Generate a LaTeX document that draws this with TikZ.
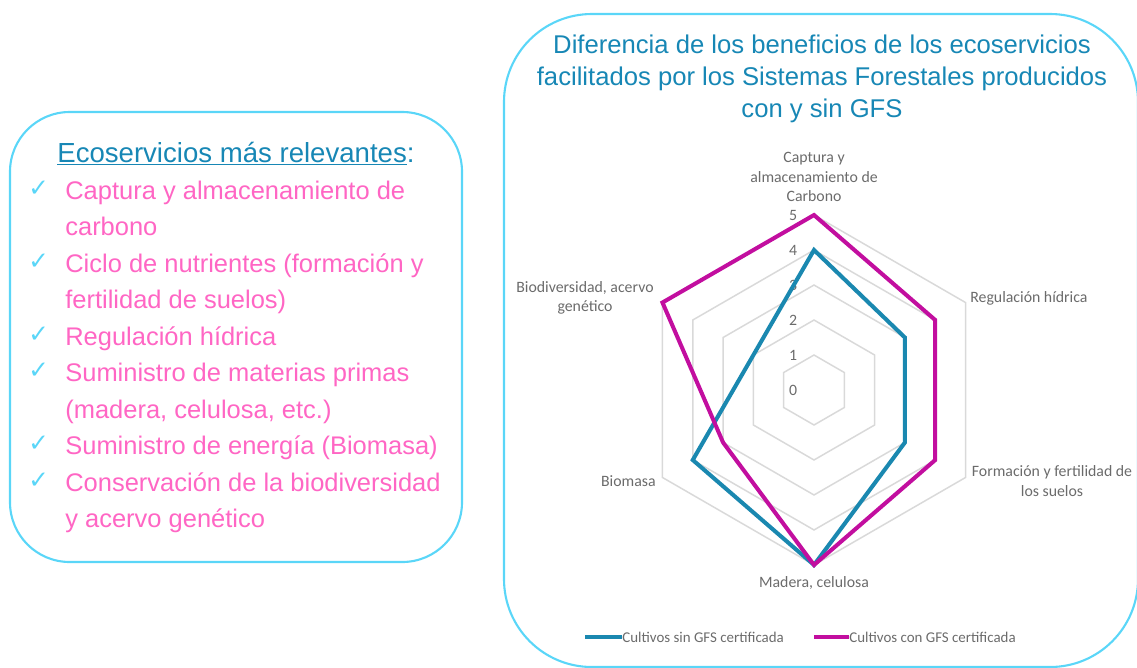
\documentclass[tikz,border=0pt]{standalone}
\usepackage{fontspec}
\setmainfont{Liberation Sans}
\newfontfamily\chartfont{Carlito}
\newfontfamily\checkfont{DejaVu Sans}
\usepackage{xcolor}
\definecolor{boxcyan}{HTML}{5AD6F8}
\definecolor{headblue}{HTML}{1787B5}
\definecolor{itempink}{HTML}{FF66C4}
\definecolor{sinblue}{HTML}{1A88B0}
\definecolor{conmag}{HTML}{C20E9F}
\definecolor{gridgrey}{HTML}{D9D9D9}
\definecolor{labelgrey}{HTML}{6B6B6B}

\newcommand\radarserie[7]{
  \draw[#7]
    (90:#1) -- (30:#2) -- (-30:#3) --
    (-90:#4) -- (-150:#5) -- (150:#6) -- cycle;
}

\tikzset{
  roundbox/.style={draw=boxcyan,line width=1.2pt},
  itemtext/.style={anchor=base west,inner sep=0pt,align=left,text=itempink,
    font=\fontsize{14.5}{20.7}\selectfont},
  checkmark/.style={anchor=base west,inner sep=0pt,text=boxcyan,
    font=\checkfont\fontsize{14}{14}\selectfont},
  charttext/.style={inner sep=0pt,align=center,text=labelgrey,
    font=\chartfont\fontsize{9}{11}\selectfont},
  gridline/.style={draw=gridgrey,line width=0.85pt},
  seriesline/.style={line width=2.3pt,line join=miter}
}

\begin{document}
\begin{tikzpicture}[x=0.02cm,y=-0.02cm]
  \useasboundingbox (0,0) rectangle (1137,667);

  % left box
  \draw[roundbox,rounded corners=34pt] (10,112) rectangle (462,562);
  \node[anchor=base west,inner sep=0pt,text=headblue,
    font=\fontsize{15.7}{18}\selectfont] (heading) at (57,162)
    {\underline{Ecoservicios más relevantes}:};

  % items: node base = baseline of last line
  \node[checkmark] (chk1) at (28,196) {✓};
  \node[itemtext] (item1) at (65,235.5) {Captura y almacenamiento de\\carbono};
  \node[checkmark] (chk2) at (28,269) {✓};
  \node[itemtext] (item2) at (65,308.5) {Ciclo de nutrientes (formación y\\fertilidad de suelos)};
  \node[checkmark] (chk3) at (28,342) {✓};
  \node[itemtext] (item3) at (65,345) {Regulación hídrica};
  \node[checkmark] (chk4) at (28,378) {✓};
  \node[itemtext] (item4) at (65,418) {Suministro de materias primas\\(madera, celulosa, etc.)};
  \node[checkmark] (chk5) at (28,451) {✓};
  \node[itemtext] (item5) at (65,454.5) {Suministro de energía (Biomasa)};
  \node[checkmark] (chk6) at (28,488) {✓};
  \node[itemtext] (item6) at (65,527.5) {Conservación de la biodiversidad\\y acervo genético};

  % right box
  \draw[roundbox,rounded corners=50pt] (504,14) rectangle (1138,667);
  \node[anchor=base,inner sep=0pt,align=center,text=headblue,
    font=\fontsize{14.6}{18}\selectfont] (title) at (822,117)
    {Diferencia de los beneficios de los ecoservicios\\
     facilitados por los Sistemas Forestales producidos\\
     con y sin GFS};

  \begin{scope}[shift={(814,390)},x=0.7cm,y=0.7cm]
    \foreach \r in {1,...,5}
      \draw[gridline] (90:\r) -- (30:\r) -- (-30:\r) --
        (-90:\r) -- (-150:\r) -- (150:\r) -- cycle;
    \foreach \r in {0,...,5}
      \node[charttext] (tick\r) at (-0.6,\r) {\r};
    \radarserie{4}{3}{3}{5}{4}{2}{seriesline,sinblue}
    \radarserie{5}{4}{4}{5}{3}{5}{seriesline,conmag}
  \end{scope}

  \node[charttext] (captura) at (814,177) {Captura y\\almacenamiento de\\Carbono};
  \node[charttext,anchor=west] (regulacion) at (970,298) {Regulación hídrica};
  \node[charttext] (formacion) at (1052,481) {Formación y fertilidad de\\los suelos};
  \node[charttext] (madera) at (814,583) {Madera, celulosa};
  \node[charttext,anchor=east] (biomasa) at (656,481) {Biomasa};
  \node[charttext] (biodiv) at (585,298) {Biodiversidad, acervo\\genético};

  % legend
  \node[charttext,anchor=west,font=\chartfont\fontsize{8.5}{10}\selectfont]
    (sinlbl) at (622,637) {Cultivos sin GFS certificada};
  \node[charttext,anchor=west,font=\chartfont\fontsize{8.5}{10}\selectfont]
    (conlbl) at (849,637) {Cultivos con GFS certificada};
  \coordinate (sinstart) at (585,637);
  \coordinate (constart) at (814,637);
  \draw[seriesline,sinblue] (sinstart) -- (sinlbl);
  \draw[seriesline,conmag] (constart) -- (conlbl);
\end{tikzpicture}
\end{document}
